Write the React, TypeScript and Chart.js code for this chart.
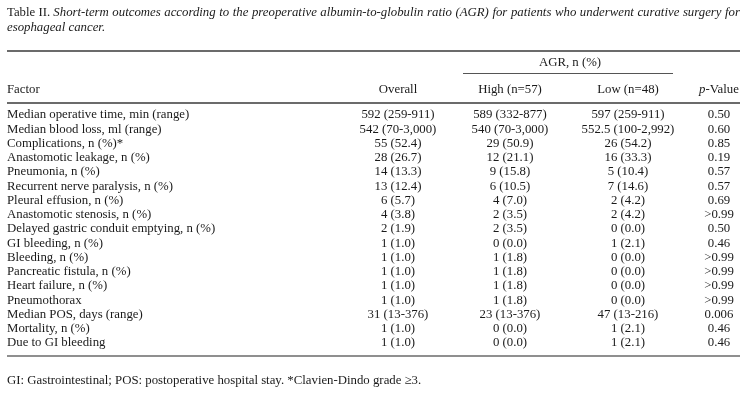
import React, { useEffect, useRef } from "react";
import { Chart, registerables } from "chart.js";

Chart.register(...registerables);

const factors = [
  "Median operative time, min (range)",
  "Median blood loss, ml (range)",
  "Complications, n (%)*",
  "Anastomotic leakage, n (%)",
  "Pneumonia, n (%)",
  "Recurrent nerve paralysis, n (%)",
  "Pleural effusion, n (%)",
  "Anastomotic stenosis, n (%)",
  "Delayed gastric conduit emptying, n (%)",
  "GI bleeding, n (%)",
  "Bleeding, n (%)",
  "Pancreatic fistula, n (%)",
  "Heart failure, n (%)",
  "Pneumothorax",
  "Median POS, days (range)",
  "Mortality, n (%)",
  "Due to GI bleeding",
];
const overall = [
  "592 (259-911)", "542 (70-3,000)", "55 (52.4)", "28 (26.7)", "14 (13.3)",
  "13 (12.4)", "6 (5.7)", "4 (3.8)", "2 (1.9)", "1 (1.0)", "1 (1.0)",
  "1 (1.0)", "1 (1.0)", "1 (1.0)", "31 (13-376)", "1 (1.0)", "1 (1.0)",
];
const highAGR = [
  "589 (332-877)", "540 (70-3,000)", "29 (50.9)", "12 (21.1)", "9 (15.8)",
  "6 (10.5)", "4 (7.0)", "2 (3.5)", "2 (3.5)", "0 (0.0)", "1 (1.8)",
  "1 (1.8)", "1 (1.8)", "1 (1.8)", "23 (13-376)", "0 (0.0)", "0 (0.0)",
];
const lowAGR = [
  "597 (259-911)", "552.5 (100-2,992)", "26 (54.2)", "16 (33.3)", "5 (10.4)",
  "7 (14.6)", "2 (4.2)", "2 (4.2)", "0 (0.0)", "1 (2.1)", "0 (0.0)",
  "0 (0.0)", "0 (0.0)", "0 (0.0)", "47 (13-216)", "1 (2.1)", "1 (2.1)",
];
const pValues = [
  "0.50", "0.60", "0.85", "0.19", "0.57", "0.57", "0.69", ">0.99", "0.50",
  "0.46", ">0.99", ">0.99", ">0.99", ">0.99", "0.006", "0.46", "0.46",
];
const columnHeaders = ["Factor", "Overall", "High (n=57)", "Low (n=48)", "p-Value"];
const groupHeader = "AGR, n (%)";
const titleLabel = "Table II.";
const titleText =
  "Short-term outcomes according to the preoperative albumin-to-globulin ratio (AGR) for patients who underwent curative surgery for esophageal cancer.";
const footnote =
  "GI: Gastrointestinal; POS: postoperative hospital stay. *Clavien-Dindo grade \u22653.";

const W = 753;
const H = 409;
const FONT = "'Liberation Serif', 'DejaVu Serif', serif";
const FS = 12.8;
const LEFT = 7;
const RIGHT = 740;
const FIRST_ROW = 115;
const ROW_STEP = 14.25;
const COLS = [
  { x: LEFT, align: "left" },
  { x: 398, align: "center" },
  { x: 510, align: "center" },
  { x: 628, align: "center" },
  { x: 719, align: "center" },
];
const TEXT = "#1a1a1a";
const RULE = "#3a3a3a";

const columnsData = [factors, overall, highAGR, lowAGR, pValues];

const tablePlugin = {
  id: "tableText",
  afterDatasetsDraw(chart: any) {
    const ctx = chart.ctx;
    const xs = chart.scales.x;
    const ys = chart.scales.y;
    const px = (v: number) => xs.getPixelForValue(v);
    const py = (v: number) => ys.getPixelForValue(v);
    ctx.save();
    ctx.fillStyle = TEXT;
    ctx.textBaseline = "middle";
    const reg = `${FS}px ${FONT}`;
    const ital = `italic ${FS}px ${FONT}`;

    // cells
    chart.data.datasets.forEach((ds: any, di: number) => {
      const meta = chart.getDatasetMeta(di);
      ctx.font = reg;
      ctx.textAlign = COLS[di].align;
      meta.data.forEach((el: any, j: number) => {
        ctx.fillText(ds.cellText[j], el.x, el.y);
      });
    });

    // title, justified first line
    const y1 = py(13);
    const y2 = py(28);
    ctx.textAlign = "left";
    ctx.font = reg;
    const labelW = ctx.measureText(titleLabel + " ").width;
    ctx.fillText(titleLabel, px(LEFT), y1);
    ctx.font = ital;
    const words = titleText.split(" ");
    const line1 = words.slice(0, words.length - 2);
    const line2 = words.slice(words.length - 2).join(" ");
    const wordsW = line1.reduce((s, w) => s + ctx.measureText(w).width, 0);
    const avail = px(RIGHT) - px(LEFT) - labelW;
    const gap = (avail - wordsW) / (line1.length - 1);
    let cx = px(LEFT) + labelW;
    line1.forEach((w) => {
      ctx.fillText(w, cx, y1);
      cx += ctx.measureText(w).width + gap;
    });
    ctx.fillText(line2, px(LEFT), y2);

    // rules
    const hline = (x0: number, x1: number, y: number, lw: number, col = RULE) => {
      ctx.beginPath();
      ctx.lineWidth = lw;
      ctx.strokeStyle = col;
      ctx.moveTo(px(x0), py(y));
      ctx.lineTo(px(x1), py(y));
      ctx.stroke();
    };
    hline(LEFT, RIGHT, 51, 1.3);
    hline(463, 673, 73.5, 1.2, "#555");
    hline(LEFT, RIGHT, 103, 1.3);
    hline(LEFT, RIGHT, 356, 1.6, "#6a6a6a");

    // group header
    ctx.font = reg;
    ctx.textAlign = "center";
    ctx.fillText(groupHeader, px(570), py(63));

    // column headers
    const hy = py(90);
    columnHeaders.forEach((h, i) => {
      if (i === 4) {
        ctx.font = ital;
        const pw = ctx.measureText("p").width;
        ctx.font = reg;
        const rest = h.slice(1);
        const rw = ctx.measureText(rest).width;
        const start = px(COLS[i].x) - (pw + rw) / 2;
        ctx.textAlign = "left";
        ctx.font = ital;
        ctx.fillText("p", start, hy);
        ctx.font = reg;
        ctx.fillText(rest, start + pw, hy);
      } else {
        ctx.font = reg;
        ctx.textAlign = COLS[i].align;
        ctx.fillText(h, px(COLS[i].x), hy);
      }
    });

    // footnote
    ctx.font = reg;
    ctx.textAlign = "left";
    ctx.fillText(footnote, px(LEFT), py(381));
    ctx.restore();
  },
};

export default function App() {
  const ref = useRef<HTMLCanvasElement | null>(null);
  useEffect(() => {
    document.body.style.margin = "0";
    document.body.style.background = "#ffffff";
    const canvas = ref.current!;
    const chart = new Chart(canvas, {
      type: "scatter",
      data: {
        datasets: columnsData.map((col, ci) => ({
          label: columnHeaders[ci],
          cellText: col,
          data: col.map((_, i) => ({ x: COLS[ci].x, y: FIRST_ROW + i * ROW_STEP })),
          pointRadius: 0,
          pointHoverRadius: 0,
          showLine: false,
        })) as any,
      },
      options: {
        animation: false,
        responsive: false,
        devicePixelRatio: 1,
        layout: { padding: 0 },
        events: [],
        plugins: {
          legend: { display: false },
          tooltip: { enabled: false },
          title: { display: false },
        },
        scales: {
          x: { type: "linear", min: 0, max: W, display: false },
          y: { type: "linear", min: 0, max: H, reverse: true, display: false },
        },
      },
      plugins: [tablePlugin],
    });
    return () => chart.destroy();
  }, []);
  return (
    <div style={{ width: W, height: H, background: "#fff" }}>
      <canvas ref={ref} width={W} height={H} style={{ display: "block", width: W, height: H }} />
    </div>
  );
}
